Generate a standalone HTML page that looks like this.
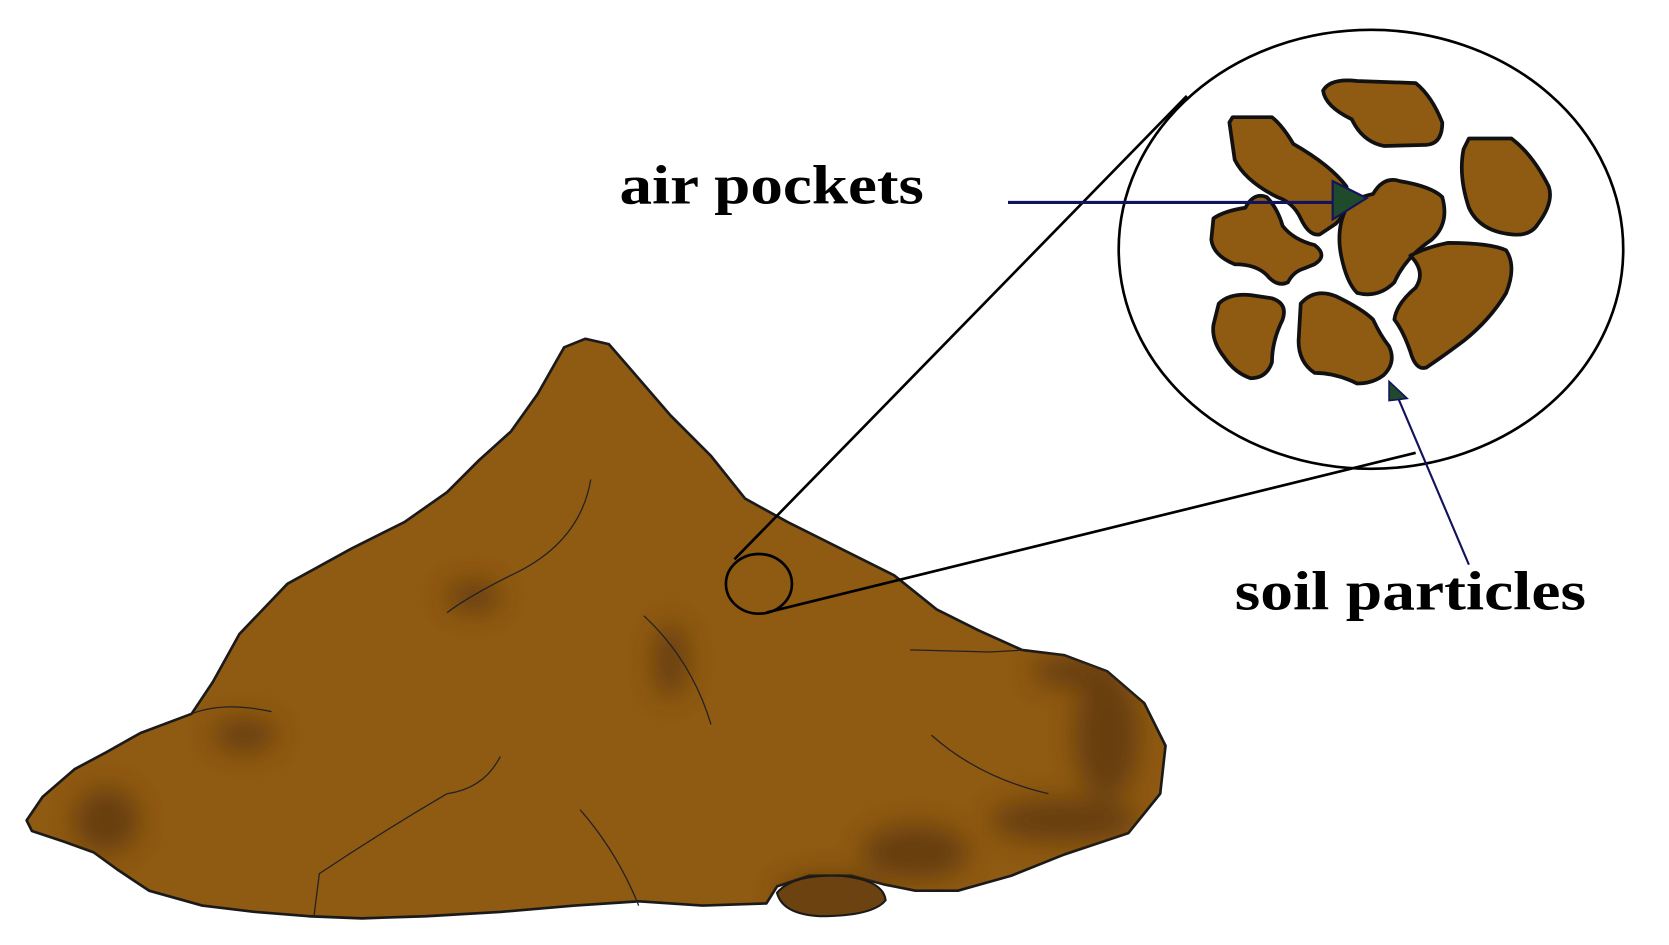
<!DOCTYPE html>
<html><head><meta charset="utf-8"><style>
html,body{margin:0;padding:0;background:#fff;width:1669px;height:945px;overflow:hidden}
svg{display:block}
</style></head><body>
<svg width="1669" height="945" viewBox="0 0 1568 887" preserveAspectRatio="none" xmlns="http://www.w3.org/2000/svg">
<defs>
<filter id="bl" x="-50%" y="-50%" width="200%" height="200%"><feGaussianBlur stdDeviation="12"/></filter>
<clipPath id="pc"><path id="pilep" d="M25,770 L40,748 L70,722 L100,706 L132,688 L180,670 L200,640 L225,595 L270,548 L330,515 L380,490 L420,462 L450,432 L480,405 L505,370 L530,326 L550,318 L572,323 L592,346 L630,390 L668,428 L700,468 L740,490 L790,515 L840,540 L880,572 L920,592 L960,610 L1000,615 L1040,630 L1075,660 L1095,700 L1090,745 L1060,782 L1000,802 L950,822 L900,836 L860,836 L830,830 L800,822 L760,822 L730,832 L720,848 L660,850 L600,846 L540,850 L470,856 L400,860 L340,862 L290,860 L240,856 L190,850 L140,836 L110,816 L88,800 L60,790 L30,780 Z"/></clipPath>
</defs>
<use href="#pilep" fill="#8f5a12" stroke="#1a1a1a" stroke-width="2.5" stroke-linejoin="round"/>
<g clip-path="url(#pc)" filter="url(#bl)" fill="#5a3508" opacity="0.75">
<ellipse cx="445" cy="560" rx="25" ry="14"/>
<ellipse cx="630" cy="620" rx="15" ry="35"/>
<ellipse cx="230" cy="690" rx="30" ry="15"/>
<ellipse cx="1040" cy="690" rx="30" ry="60"/>
<ellipse cx="860" cy="800" rx="50" ry="25"/>
<ellipse cx="1000" cy="770" rx="70" ry="20"/>
<ellipse cx="780" cy="840" rx="50" ry="18"/>
<ellipse cx="100" cy="770" rx="30" ry="30"/>
<ellipse cx="1010" cy="630" rx="40" ry="15"/>
</g>
<path d="M730,838 Q745,820 790,822 Q830,826 832,845 Q820,860 770,860 Q735,858 730,838Z" fill="#6b4210" stroke="#1a1a1a" stroke-width="2"/>
<g fill="none" stroke="#222" stroke-width="1.2">
<path d="M555,450 Q545,510 480,540 Q440,560 420,575"/>
<path d="M605,578 Q650,620 668,680"/>
<path d="M180,670 Q210,658 255,668"/>
<path d="M470,710 Q455,740 420,745 Q360,780 300,820 L295,860"/>
<path d="M545,760 Q580,800 600,850"/>
<path d="M875,690 Q920,730 985,745"/>
<path d="M855,610 L930,612 L965,610"/>
</g>
<g fill="none" stroke="#000" stroke-width="2.5">
<ellipse cx="1288" cy="234" rx="237" ry="206"/>
<ellipse cx="713" cy="548" rx="31" ry="28"/>
<line x1="690" y1="525" x2="1115" y2="90"/>
<line x1="720" y1="575" x2="1330" y2="425"/>
</g>
<g fill="#8f5a12" stroke="#111" stroke-width="3.5" stroke-linejoin="round">
<path d="M1243,85 Q1250,73 1275,76 L1330,78 Q1345,90 1355,115 Q1355,135 1340,136 L1300,137 Q1280,133 1270,112 Q1245,100 1243,85Z"/>
<path d="M1155,115 L1158,110 L1195,110 Q1205,118 1215,135 Q1250,155 1265,175 Q1270,195 1255,210 L1240,220 Q1230,222 1222,205 Q1215,190 1200,185 Q1170,170 1160,150 Z"/>
<path d="M1375,140 L1380,130 L1420,130 Q1440,145 1455,175 Q1460,190 1445,210 Q1438,222 1420,220 Q1390,217 1380,195 Q1370,165 1375,140Z"/>
<path d="M1140,205 Q1150,198 1170,195 Q1178,180 1190,185 Q1200,195 1205,212 Q1215,225 1235,230 Q1248,240 1235,248 L1225,252 Q1215,255 1210,265 Q1200,270 1190,258 Q1180,248 1160,248 Q1140,240 1138,225Z"/>
<path d="M1265,195 Q1275,185 1290,182 Q1300,165 1315,170 Q1345,175 1355,185 Q1362,210 1345,225 Q1320,242 1310,265 Q1295,280 1275,275 Q1265,265 1260,240 Q1255,215 1265,195Z"/>
<path d="M1325,240 Q1340,232 1360,228 Q1400,228 1415,235 Q1425,250 1415,275 Q1400,300 1375,320 Q1355,335 1340,345 Q1330,348 1325,330 Q1318,310 1310,300 Q1312,285 1330,270 Q1340,255 1325,240Z"/>
<path d="M1145,285 Q1155,275 1175,277 L1195,280 Q1210,285 1205,300 Q1195,320 1195,340 Q1190,355 1175,355 Q1160,350 1150,335 Q1138,320 1140,305Z"/>
<path d="M1222,285 Q1235,270 1255,278 Q1280,290 1290,300 Q1297,315 1305,325 Q1312,340 1300,352 Q1290,360 1275,360 Q1255,350 1235,350 Q1220,340 1220,320Z"/>
</g>
<g stroke="#13135c" stroke-width="3" fill="#1f4a2c">
<line x1="947" y1="190" x2="1255" y2="190"/>
<path d="M1252,170 L1284,186 L1252,206Z" stroke-width="2"/>
<line x1="1380" y1="530" x2="1312" y2="370" stroke-width="2"/>
<path d="M1305,358 L1322,374 L1305,376Z" stroke-width="1.5"/>
</g>
<g font-family="Liberation Serif, serif" font-weight="bold" font-size="52" fill="#000">
<text x="582" y="191" textLength="286" lengthAdjust="spacingAndGlyphs">air pockets</text>
<text x="1160" y="572" textLength="330" lengthAdjust="spacingAndGlyphs">soil particles</text>
</g>
</svg>
</body></html>
